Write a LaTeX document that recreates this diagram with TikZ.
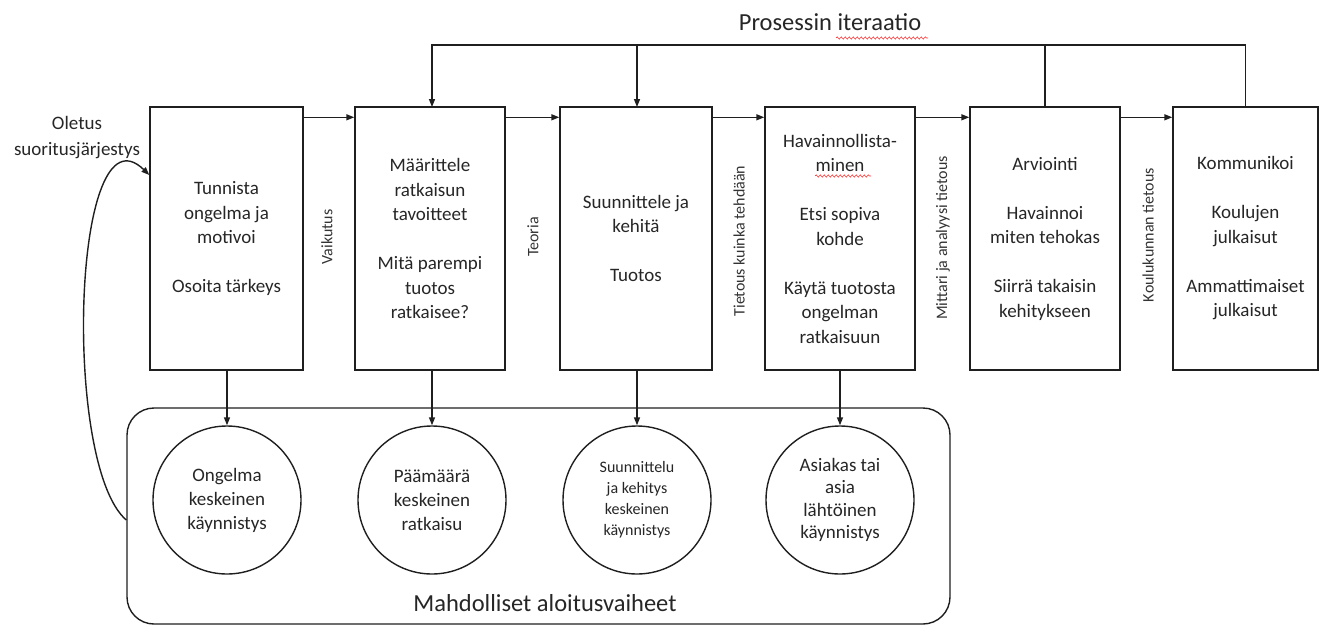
\documentclass[tikz,border=0pt]{standalone}
\usepackage{fontspec}
\setmainfont{Carlito}
\usetikzlibrary{arrows.meta,decorations.pathmorphing}

\begin{document}
\begin{tikzpicture}[x=1pt,y=-1pt,
  ink/.style={draw=black!88, line width=1.4pt},
  arr/.style={ink, -{Triangle[length=8pt,width=6pt]}},
  stagebox/.style={ink, minimum height=263pt, inner sep=0pt, align=center,
    text=black!85, font=\fontsize{19}{24.5}\selectfont},
  startcircle/.style={ink, circle, minimum size=148pt, inner sep=0pt, align=center,
    text=black!85, font=\fontsize{19}{24}\selectfont},
  flowlabel/.style={rotate=90, text=black!80, font=\fontsize{16}{19}\selectfont},
  squiggle/.style={draw=red!80, line width=0.6pt, decorate,
    decoration={snake, amplitude=1.1pt, segment length=4pt}}]

\useasboundingbox (0,0) rectangle (1320,627);

% title of the feedback loop
\node[text=black!85, font=\fontsize{24.5}{28}\selectfont] (title) at (830,22) {Prosessin iteraatio};
\path[squiggle] (836,38) -- (928,38);

% the six process stages
\node[stagebox, minimum width=153pt] (b1) at (226.5,238.5)
  {Tunnista\\ongelma ja\\motivoi\\[24.5pt]Osoita tärkeys};
\node[stagebox, minimum width=150pt] (b2) at (430,238.5)
  {Määrittele\\ratkaisun\\tavoitteet\\[24.5pt]Mitä parempi\\tuotos\\ratkaisee?};
\node[stagebox, minimum width=152pt] (b3) at (636,238.5)
  {Suunnittele ja\\kehitä\\[24.5pt]Tuotos};
\node[stagebox, minimum width=150pt] (b4) at (840,238.5)
  {Havainnollista-\\minen\\[24.5pt]Etsi sopiva\\kohde\\[24.5pt]Käytä tuotosta\\ongelman\\ratkaisuun};
\node[stagebox, minimum width=150pt] (b5) at (1045,238.5)
  {Arviointi\\[24.5pt]Havainnoi\\miten tehokas\\[24.5pt]Siirrä takaisin\\kehitykseen};
\node[stagebox, minimum width=145pt] (b6) at (1245.5,238.5)
  {Kommunikoi\\[24.5pt]Koulujen\\julkaisut\\[24.5pt]Ammattimaiset\\julkaisut};
\path[squiggle] (815,176) -- (871,176);

% forward flow between stages
\draw[arr] ([yshift=-11pt]b1.north east) -- ([yshift=-11pt]b2.north west);
\draw[arr] ([yshift=-11pt]b2.north east) -- ([yshift=-11pt]b3.north west);
\draw[arr] ([yshift=-11pt]b3.north east) -- ([yshift=-11pt]b4.north west);
\draw[arr] ([yshift=-11pt]b4.north east) -- ([yshift=-11pt]b5.north west);
\draw[arr] ([yshift=-11pt]b5.north east) -- ([yshift=-11pt]b6.north west);

% knowledge passed between stages
\node[flowlabel] (l1) at (327,237) {Vaikutus};
\node[flowlabel] (l2) at (533,237) {Teoria};
\node[flowlabel] (l3) at (739,241) {Tietous kuinka tehdään};
\node[flowlabel] (l4) at (943,238) {Mittari ja analyysi tietous};
\node[flowlabel] (l5) at (1148,235) {Koulukunnan tietous};

% iteration back into earlier stages
\draw[arr] (b6.north) |- (432,45) -- (432,107);
\draw[arr] (b5.north) |- (637,45) -- (637,107);

% possible entry points
\node[ink, rounded corners=27pt, minimum width=823pt, minimum height=216pt] (frame) at (538.5,516) {};
\node[startcircle] (c1) at (227,500) {Ongelma\\keskeinen\\käynnistys};
\node[startcircle] (c2) at (432,500) {Päämäärä\\keskeinen\\ratkaisu};
\node[startcircle, font=\fontsize{16}{21}\selectfont] (c3) at (637,500) {Suunnittelu\\ja kehitys\\keskeinen\\käynnistys};
\node[startcircle, font=\fontsize{19}{22.5}\selectfont] (c4) at (840,500) {Asiakas tai\\asia\\lähtöinen\\käynnistys};
\node[text=black!85, font=\fontsize{24.5}{28}\selectfont] (framelabel) at (545,603) {Mahdolliset aloitusvaiheet};

\draw[arr] (b1.south -| c1.north) -- (c1.north);
\draw[arr] (b2.south -| c2.north) -- (c2.north);
\draw[arr] (b3.south -| c3.north) -- (c3.north);
\draw[arr] (b4.south -| c4.north) -- (c4.north);

% default order of execution
\node[align=center, text=black!85, font=\fontsize{19}{26}\selectfont] (default) at (77,138) {Oletus\\suoritusjärjestys};
\coordinate (loopstart) at (frame.west |- 0,520);
\coordinate (loopend) at (b1.west |- 0,175);
\draw[arr] (loopstart) .. controls (62,465) and (72,100) .. (loopend);

\end{tikzpicture}
\end{document}
